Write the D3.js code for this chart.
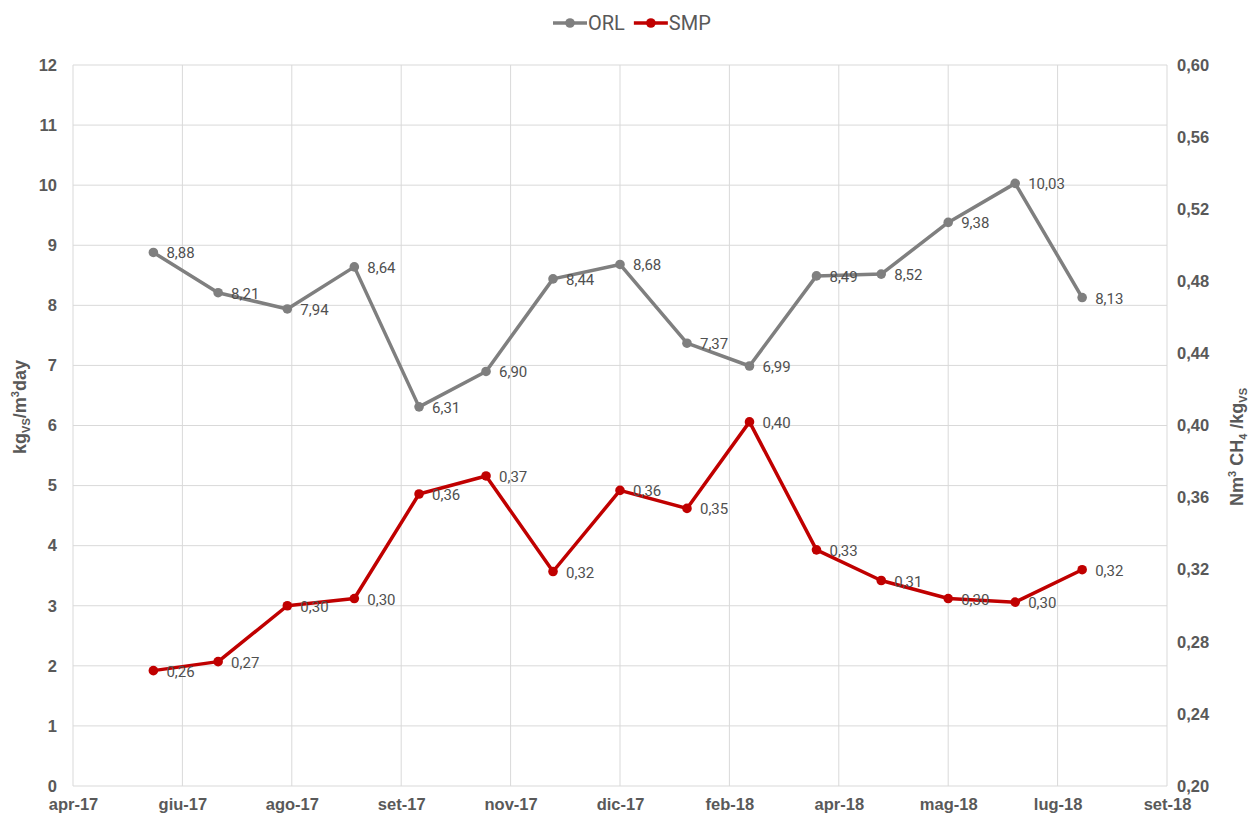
<!DOCTYPE html>
<html>
<head>
<meta charset="utf-8">
<script src="https://cdn.jsdelivr.net/npm/d3@7"></script>
<style>
  body { margin: 0; background: #fff; }
  svg { display: block; }
  .tick text { font-family: "Liberation Sans", Arial, sans-serif; font-weight: bold; fill: #595959; }
  .lbl { font-family: Roboto, "Liberation Sans", sans-serif; font-size: 15px; fill: #505050; }
</style>
</head>
<body>
<svg id="chart" width="1255" height="818"></svg>
<script>
// sample dates (one per month)
const dates = ["2017-06-05", "2017-07-04", "2017-08-04", "2017-09-03", "2017-10-02", "2017-11-01",
  "2017-12-01", "2017-12-31", "2018-01-30", "2018-02-27", "2018-03-29", "2018-04-27",
  "2018-05-27", "2018-06-26", "2018-07-26"];
const orl = [8.88, 8.21, 7.94, 8.64, 6.31, 6.90, 8.44, 8.68, 7.37, 6.99, 8.49, 8.52, 9.38, 10.03, 8.13];
const smp = [0.264, 0.269, 0.300, 0.304, 0.362, 0.372, 0.319, 0.364, 0.354, 0.402, 0.331, 0.314, 0.304, 0.302, 0.320];

const tickDates = ["2017-04-30", "2017-06-18", "2017-08-06", "2017-09-24", "2017-11-12", "2017-12-31",
  "2018-02-18", "2018-04-08", "2018-05-27", "2018-07-15", "2018-09-02"];
const tickLabels = ["apr-17", "giu-17", "ago-17", "set-17", "nov-17", "dic-17",
  "feb-18", "apr-18", "mag-18", "lug-18", "set-18"];
const leftTicks = [0, 1, 2, 3, 4, 5, 6, 7, 8, 9, 10, 11, 12];
const rightTicks = [0.20, 0.24, 0.28, 0.32, 0.36, 0.40, 0.44, 0.48, 0.52, 0.56, 0.60];

const parse = d3.timeParse("%Y-%m-%d");
const fmt = v => v.toFixed(2).replace(".", ",");

const m = { l: 73, r: 1167, t: 65, b: 786 };
const svg = d3.select("#chart");

const x = d3.scaleTime()
  .domain([parse(tickDates[0]), parse(tickDates[tickDates.length - 1])])
  .range([m.l, m.r]);
const yL = d3.scaleLinear().domain([0, 12]).range([m.b, m.t]);
const yR = d3.scaleLinear().domain([0.20, 0.60]).range([m.b, m.t]);

// grid
const grid = svg.append("g");
grid.selectAll("line.h").data(leftTicks).join("line")
  .attr("x1", m.l).attr("x2", m.r)
  .attr("y1", d => yL(d)).attr("y2", d => yL(d))
  .attr("stroke", "#d9d9d9").attr("stroke-width", 1);
grid.selectAll("line.v").data(tickDates).join("line")
  .attr("x1", d => x(parse(d))).attr("x2", d => x(parse(d)))
  .attr("y1", m.t).attr("y2", m.b)
  .attr("stroke", "#d9d9d9").attr("stroke-width", 1);

// axes
const xAxis = svg.append("g")
  .attr("transform", `translate(0, ${m.b})`)
  .call(d3.axisBottom(x).tickValues(tickDates.map(parse)).tickFormat((d, i) => tickLabels[i]).tickSize(0).tickPadding(12));
xAxis.select(".domain").remove();
xAxis.selectAll("text").style("font-size", "16.5px");

const lAxis = svg.append("g")
  .attr("transform", `translate(${m.l}, 0)`)
  .call(d3.axisLeft(yL).tickValues(leftTicks).tickSize(0).tickPadding(16));
lAxis.select(".domain").remove();
lAxis.selectAll("text").style("font-size", "16.5px");

const rAxis = svg.append("g")
  .attr("transform", `translate(${m.r}, 0)`)
  .call(d3.axisRight(yR).tickValues(rightTicks).tickFormat(fmt).tickSize(0).tickPadding(10));
rAxis.select(".domain").remove();
rAxis.selectAll("text").style("font-size", "16.5px");

// axis titles
const lt = svg.append("text")
  .attr("transform", "translate(26, 407) rotate(-90)")
  .attr("text-anchor", "middle")
  .style("font-family", "Liberation Sans, Arial, sans-serif")
  .style("font-weight", "bold").style("font-size", "18px").style("fill", "#595959");
lt.append("tspan").text("kg");
lt.append("tspan").text("VS").attr("dy", 4).style("font-size", "11px");
lt.append("tspan").text("/m").attr("dy", -4);
lt.append("tspan").text("3").attr("dy", -7).style("font-size", "11px");
lt.append("tspan").text("day").attr("dy", 7);

const rt = svg.append("text")
  .attr("transform", "translate(1243, 447) rotate(-90)")
  .attr("text-anchor", "middle")
  .style("font-family", "Liberation Sans, Arial, sans-serif")
  .style("font-weight", "bold").style("font-size", "18px").style("fill", "#595959");
rt.append("tspan").text("Nm");
rt.append("tspan").text("3").attr("dy", -7).style("font-size", "11px");
rt.append("tspan").text(" CH").attr("dy", 7);
rt.append("tspan").text("4").attr("dy", 4).style("font-size", "11px");
rt.append("tspan").text(" /kg").attr("dy", -4);
rt.append("tspan").text("VS").attr("dy", 4).style("font-size", "11px");

// series
const series = [
  { name: "ORL", values: orl, y: yL, color: "#7f7f7f" },
  { name: "SMP", values: smp, y: yR, color: "#c00000" }
];

series.forEach(s => {
  const pts = dates.map((d, i) => ({ date: parse(d), v: s.values[i] }));
  const line = d3.line().x(d => x(d.date)).y(d => s.y(d.v));
  svg.append("path").datum(pts)
    .attr("d", line)
    .attr("fill", "none").attr("stroke", s.color)
    .attr("stroke-width", 3.5).attr("stroke-linejoin", "round");
  svg.append("g").selectAll("circle").data(pts).join("circle")
    .attr("cx", d => x(d.date)).attr("cy", d => s.y(d.v))
    .attr("r", 4.8).attr("fill", s.color);
  svg.append("g").selectAll("text").data(pts).join("text")
    .attr("class", "lbl")
    .attr("x", d => x(d.date) + 13).attr("y", d => s.y(d.v) + 6)
    .text(d => fmt(d.v));
});

// legend
const leg = svg.append("g").attr("transform", "translate(553, 23)");
let lx = 0;
series.forEach(s => {
  leg.append("line").attr("x1", lx).attr("x2", lx + 34).attr("y1", 0).attr("y2", 0)
    .attr("stroke", s.color).attr("stroke-width", 3.5);
  leg.append("circle").attr("cx", lx + 17).attr("cy", 0).attr("r", 4.8).attr("fill", s.color);
  const t = leg.append("text").attr("x", lx + 35).attr("y", 7)
    .style("font-family", "Roboto, Liberation Sans, sans-serif")
    .style("font-size", "20px").style("fill", "#595959").text(s.name);
  lx += 35 + t.node().getComputedTextLength() + 9;
});
</script>
</body>
</html>
